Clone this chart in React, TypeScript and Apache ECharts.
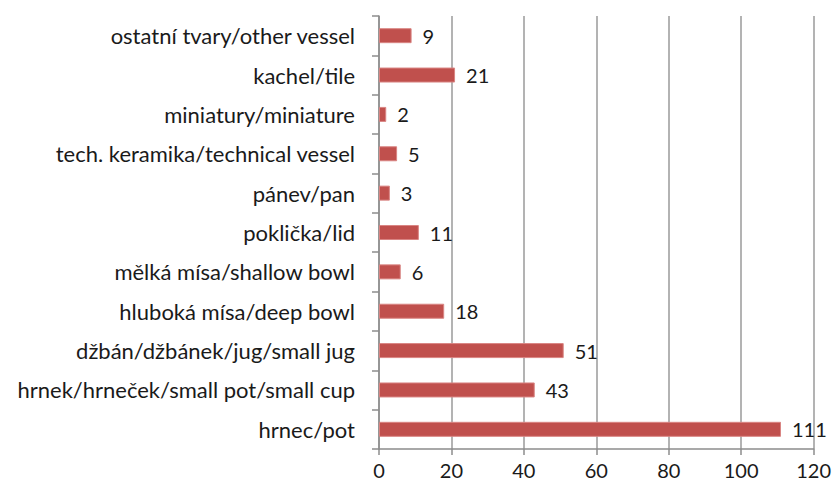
import React, { useEffect, useRef } from "react";
import * as echarts from "echarts";

const categories = [
  "hrnec/pot",
  "hrnek/hrneček/small pot/small cup",
  "džbán/džbánek/jug/small jug",
  "hluboká mísa/deep bowl",
  "mělká mísa/shallow bowl",
  "poklička/lid",
  "pánev/pan",
  "tech. keramika/technical vessel",
  "miniatury/miniature",
  "kachel/tile",
  "ostatní tvary/other vessel",
];
const values = [111, 43, 51, 18, 6, 11, 3, 5, 2, 21, 9];

export default function App() {
  const ref = useRef<HTMLDivElement>(null);
  useEffect(() => {
    if (!ref.current) return;
    const chart = echarts.init(ref.current, null, { renderer: "svg" });
    const font = "Lato, 'Open Sans', sans-serif";
    chart.setOption({
      animation: false,
      grid: { left: 379, right: 18, top: 16, bottom: 40, containLabel: false },
      xAxis: {
        type: "value",
        min: 0,
        max: 120,
        interval: 20,
        axisLine: { show: true, lineStyle: { color: "#8c8c8c", width: 1.5 } },
        axisTick: { show: true, length: 6, lineStyle: { color: "#8c8c8c", width: 1.5 } },
        splitLine: { show: true, lineStyle: { color: "#9a9a9a", width: 1.5 } },
        axisLabel: { color: "#1a1a1a", fontSize: 20, fontFamily: font, margin: 11 },
      },
      yAxis: {
        type: "category",
        data: categories,
        axisLine: { show: true, lineStyle: { color: "#8c8c8c", width: 1.5 } },
        axisTick: { show: true, length: 7, lineStyle: { color: "#8c8c8c", width: 1.5 } },
        axisLabel: { color: "#1a1a1a", fontSize: 22, fontFamily: font, margin: 24 },
      },
      series: [
        {
          type: "bar",
          data: values,
          barWidth: 15,
          itemStyle: { color: "#c0504d", borderColor: "#d98583", borderWidth: 1 },
          label: {
            show: true,
            position: "right",
            distance: 11,
            color: "#1a1a1a",
            fontSize: 20,
            fontFamily: font,
          },
        },
      ],
    });
    return () => chart.dispose();
  }, []);
  return <div ref={ref} style={{ width: 834, height: 489, position: "absolute", left: 0, top: 0 }} />;
}
